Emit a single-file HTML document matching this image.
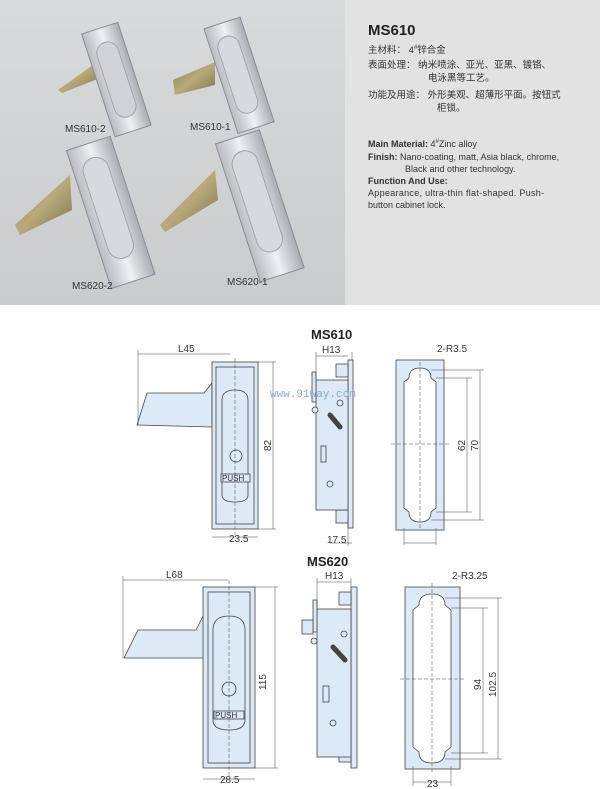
<!DOCTYPE html>
<html><head><meta charset="utf-8"><style>
html,body{margin:0;padding:0;background:#fff;width:600px;height:789px;overflow:hidden;font-family:"Liberation Sans","Noto Sans CJK SC",sans-serif}
.panel{position:absolute;left:345px;top:0;width:255px;height:305px;background:#e2e2e2;color:#333}
.panel div{position:absolute;white-space:nowrap}
</style></head><body>
<svg width="600" height="789" style="position:absolute;left:0;top:0" font-family="Liberation Sans, sans-serif">
<defs>
<linearGradient id="bg" x1="0" y1="0" x2="0" y2="1"><stop offset="0" stop-color="#d8dadc"/><stop offset="1" stop-color="#c9cbcd"/></linearGradient>
<linearGradient id="met" x1="0" y1="0" x2="1" y2="0"><stop offset="0" stop-color="#b8bcc2"/><stop offset=".5" stop-color="#eef0f2"/><stop offset="1" stop-color="#a9adb3"/></linearGradient>
<linearGradient id="brass" x1="0" y1="0" x2="1" y2="1"><stop offset="0" stop-color="#7f7d55"/><stop offset=".5" stop-color="#b8ab78"/><stop offset="1" stop-color="#77724e"/></linearGradient>
</defs>
<rect x="0" y="0" width="345" height="305" fill="url(#bg)"/>
<polygon points="58,90 100,60 100,78 62,93" fill="url(#brass)"/>
<g transform="rotate(-18 118 78)"><rect x="97" y="25" width="38" height="108" fill="url(#met)" stroke="#8a8e94"/><rect x="105" y="40" width="22" height="78" rx="11" fill="#cfd3d8" stroke="#9aa"/></g>
<polygon points="173,80 215,62 215,85 175,95" fill="url(#brass)"/>
<g transform="rotate(-18 240 75)"><rect x="220" y="20" width="38" height="110" fill="url(#met)" stroke="#8a8e94"/><rect x="227" y="34" width="22" height="80" rx="11" fill="#d6d9dd" stroke="#9aa"/></g>
<polygon points="15,225 70,175 72,210 20,235" fill="url(#brass)"/>
<g transform="rotate(-18 110 210)"><rect x="87" y="140" width="46" height="145" fill="url(#met)" stroke="#8a8e94"/><rect x="96" y="155" width="26" height="105" rx="13" fill="#d6d9dd" stroke="#9aa"/></g>
<polygon points="160,225 215,170 218,200 165,232" fill="url(#brass)"/>
<g transform="rotate(-18 260 200)"><rect x="235" y="133" width="46" height="145" fill="url(#met)" stroke="#8a8e94"/><rect x="244" y="148" width="26" height="105" rx="13" fill="#d6d9dd" stroke="#9aa"/></g>
<g font-size="10" fill="#333"><text x="65" y="132">MS610-2</text><text x="190" y="130">MS610-1</text><text x="72" y="289">MS620-2</text><text x="227" y="285">MS620-1</text></g>

<g fill="#dce9f6" stroke="#444" stroke-width="0.8" font-size="10">
<text x="311" y="339" font-size="13" font-weight="bold" fill="#222" stroke="none">MS610</text>
<polygon points="137,425 147,393 204,393 212,383 212,427" />
<rect x="212" y="362" width="46" height="167"/>
<rect x="216" y="367" width="38" height="157" fill="none"/>
<path d="M222,400 Q222,390 235,390 Q248,390 248,400 L248,495 Q248,502 235,502 Q222,502 222,495 Z"/>
<circle cx="236" cy="456" r="6"/>
<rect x="221" y="474" width="29" height="8"/>
<text x="222" y="481" font-size="8" fill="#333" stroke="none">PUSH</text>
<line x1="235" y1="358" x2="235" y2="535" stroke-dasharray="4,2" stroke-width="0.5"/>
<g stroke-width="0.5" fill="none"><line x1="138" y1="354" x2="230" y2="354"/><line x1="138" y1="350" x2="138" y2="425"/><line x1="258" y1="362" x2="276" y2="362"/><line x1="258" y1="529" x2="276" y2="529"/><line x1="273" y1="362" x2="273" y2="529"/><line x1="212" y1="537" x2="258" y2="537"/></g>
<g fill="#333" stroke="none"><text x="178" y="352">L45</text><text x="229" y="542">23.5</text><text transform="translate(271,451) rotate(-90)">82</text></g>
<rect x="348" y="360" width="5" height="168"/>
<rect x="336" y="364" width="12" height="13"/><rect x="336" y="510" width="12" height="13"/>
<rect x="316" y="380" width="32" height="130"/>
<rect x="312" y="372" width="4" height="30"/>
<circle cx="315" cy="410" r="3"/><circle cx="340" cy="403" r="3"/><circle cx="330" cy="484" r="3"/>
<rect x="321" y="446" width="5" height="16"/>
<path d="M330,415 L340,427" stroke-width="5" stroke-linecap="round"/>
<g stroke-width="0.5" fill="none"><line x1="316" y1="352" x2="316" y2="380"/><line x1="316" y1="356" x2="348" y2="356"/><line x1="352" y1="352" x2="352" y2="360"/><line x1="348" y1="518" x2="348" y2="546"/><line x1="330" y1="543" x2="352" y2="543"/></g>
<g fill="#333" stroke="none"><text x="322" y="353">H13</text><text x="327" y="543">17.5</text></g>
<rect x="396" y="360" width="48" height="170"/>
<path d="M409,378 Q409,368 420,368 Q431,368 431,378 L436,382 L436,508 L431,512 Q431,522 420,522 Q409,522 409,512 L404,508 L404,382 Z" fill="#fff"/>
<line x1="420" y1="362" x2="420" y2="528" stroke-dasharray="4,2" stroke-width="0.5"/>
<g stroke-width="0.5" fill="none"><line x1="436" y1="378" x2="472" y2="378"/><line x1="436" y1="512" x2="472" y2="512"/><line x1="467" y1="378" x2="467" y2="512"/><line x1="431" y1="370" x2="484" y2="370"/><line x1="431" y1="520" x2="484" y2="520"/><line x1="480" y1="370" x2="480" y2="520"/><line x1="404" y1="528" x2="404" y2="545"/><line x1="436" y1="528" x2="436" y2="545"/><line x1="404" y1="543" x2="436" y2="543"/><line x1="391" y1="444" x2="449" y2="444" stroke-dasharray="4,2"/></g>
<g fill="#333" stroke="none"><text x="437" y="352">2-R3.5</text><text transform="translate(465,451) rotate(-90)">62</text><text transform="translate(478,451) rotate(-90)">70</text></g>
<text x="270" y="397" fill="#8aa9d6" stroke="none" font-size="11" font-family="Liberation Mono, monospace">www.91way.com</text>

<text x="307" y="566" font-size="13" font-weight="bold" fill="#222" stroke="none">MS620</text>
<polygon points="124,658 138,630 196,630 204,614 204,658"/>
<rect x="203" y="587" width="52" height="181"/>
<rect x="208" y="592" width="42" height="171" fill="none"/>
<path d="M213,630 Q213,616 229,616 Q245,616 245,630 L245,720 Q245,730 229,730 Q213,730 213,720 Z"/>
<circle cx="229" cy="689" r="7"/>
<rect x="214" y="711" width="30" height="8"/>
<text x="215" y="718" font-size="8" fill="#333" stroke="none">PUSH</text>
<line x1="229" y1="580" x2="229" y2="776" stroke-dasharray="4,2" stroke-width="0.5"/>
<g stroke-width="0.5" fill="none"><line x1="123" y1="580" x2="228" y2="580"/><line x1="123" y1="576" x2="123" y2="658"/><line x1="255" y1="587" x2="278" y2="587"/><line x1="255" y1="768" x2="278" y2="768"/><line x1="275" y1="587" x2="275" y2="768"/><line x1="203" y1="779" x2="255" y2="779"/></g>
<g fill="#333" stroke="none"><text x="166" y="578">L68</text><text x="220" y="783">28.5</text><text transform="translate(266,690) rotate(-90)">115</text></g>
<rect x="351" y="587" width="6" height="181"/>
<rect x="339" y="592" width="12" height="13"/><rect x="339" y="749" width="12" height="13"/>
<rect x="317" y="609" width="34" height="148"/>
<rect x="313" y="600" width="4" height="32"/>
<rect x="302" y="620" width="11" height="14"/>
<circle cx="314" cy="641" r="3"/><circle cx="344" cy="634" r="3"/><circle cx="333" cy="723" r="3"/>
<rect x="323" y="686" width="6" height="16"/>
<path d="M333,647 L345,660" stroke-width="5" stroke-linecap="round"/>
<g stroke-width="0.5" fill="none"><line x1="317" y1="578" x2="317" y2="609"/><line x1="317" y1="582" x2="351" y2="582"/><line x1="351" y1="578" x2="351" y2="587"/></g>
<text x="325" y="579" fill="#333" stroke="none">H13</text>
<rect x="405" y="587" width="55" height="182"/>
<path d="M419,605 Q419,594 432,594 Q445,594 445,605 L451,610 L451,747 L445,752 Q445,763 432,763 Q419,763 419,752 L413,747 L413,610 Z" fill="#fff"/>
<line x1="432" y1="583" x2="432" y2="772" stroke-dasharray="4,2" stroke-width="0.5"/>
<g stroke-width="0.5" fill="none"><line x1="451" y1="608" x2="488" y2="608"/><line x1="451" y1="753" x2="488" y2="753"/><line x1="483" y1="608" x2="483" y2="753"/><line x1="445" y1="598" x2="502" y2="598"/><line x1="445" y1="759" x2="502" y2="759"/><line x1="498" y1="598" x2="498" y2="759"/><line x1="413" y1="766" x2="413" y2="786"/><line x1="451" y1="766" x2="451" y2="786"/><line x1="413" y1="782" x2="451" y2="782"/><line x1="400" y1="679" x2="465" y2="679" stroke-dasharray="4,2"/></g>
<g fill="#333" stroke="none"><text x="452" y="579">2-R3.25</text><text x="427" y="787">23</text><text transform="translate(481,690) rotate(-90)">94</text><text transform="translate(496,697) rotate(-90)">102.5</text></g>
</g>
</svg>
<div class="panel">
<div style="left:23px;top:22px;font-size:15px;font-weight:bold;color:#222">MS610</div>
<div style="left:23px;top:42px;font-size:9.5px">主材料： 4<sup style="font-size:6px">#</sup>锌合金</div>
<div style="left:23px;top:57px;font-size:9.5px">表面处理： 纳米喷涂、亚光、亚黑、镀铬、</div>
<div style="left:83px;top:70px;font-size:9.5px">电泳黑等工艺。</div>
<div style="left:23px;top:87px;font-size:9.5px">功能及用途： 外形美观、超薄形平面。按钮式</div>
<div style="left:92px;top:100px;font-size:9.5px">柜锁。</div>
<div style="left:23px;top:139px;font-size:9px"><b>Main Material:</b> 4<sup style="font-size:6px">#</sup>Zinc alloy</div>
<div style="left:23px;top:152px;font-size:9px"><b>Finish:</b> Nano-coating, matt, Asia black, chrome,</div>
<div style="left:60px;top:164px;font-size:9px">Black and other technology.</div>
<div style="left:23px;top:176px;font-size:9px;font-weight:bold">Function And Use:</div>
<div style="left:23px;top:188px;font-size:9px;letter-spacing:0.3px">Appearance, ultra-thin flat-shaped. Push-</div>
<div style="left:23px;top:200px;font-size:9px">button cabinet lock.</div>
</div>
</body></html>
